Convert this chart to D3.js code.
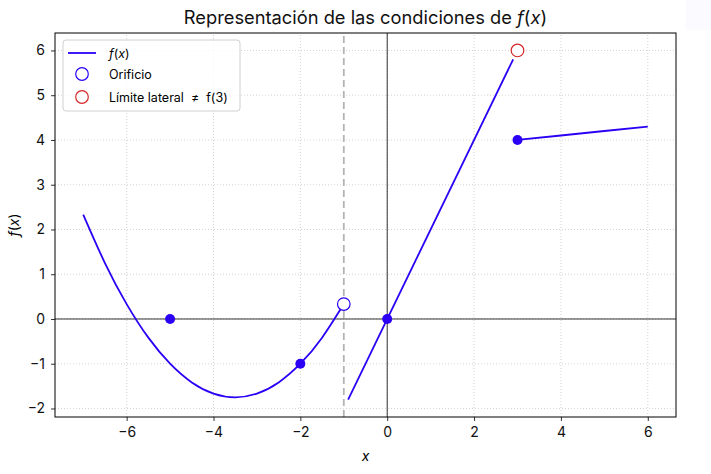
<!DOCTYPE html>
<html>
<head>
<meta charset="utf-8">
<script src="https://cdn.jsdelivr.net/npm/d3@7"></script>
<style>
  body { margin: 0; background: #fff; }
  svg { font-family: Inter, "Open Sans", sans-serif; }
</style>
</head>
<body>
<div id="chart"></div>
<script>
// parabola piece, x < -1
var parabolaX = [-7, -6.5, -6, -5.5, -5, -4.5, -4, -3.5, -3, -2.5, -2, -1.5, -1];
var parabolaY = [2.333, 1.25, 0.333, -0.417, -1.0, -1.417, -1.667, -1.75, -1.667, -1.417, -1.0, -0.417, 0.333];

// straight piece between the discontinuities
var lineX = [-0.9, 2.9];
var lineY = [-1.8, 5.8];

// slow rising piece, x >= 3
var tailX = [3, 4, 5, 6];
var tailY = [4.0, 4.1, 4.2, 4.3];

// special points
var filledX = [-5, -2, 0, 3];
var filledY = [0, -1, 0, 4];
var holeX = [-1];
var holeY = [0.333];
var limitX = [3];
var limitY = [6];

var xTicks = [-6, -4, -2, 0, 2, 4, 6];
var yTicks = [-2, -1, 0, 1, 2, 3, 4, 5, 6];
var legendLabels = ["f(x)", "Orificio", "Límite lateral  ≠  f(3)"];

var width = 711, height = 474;
var margin = {top: 33, right: 35, bottom: 57, left: 55};
var blue = "#2b00f5", red = "#d62728";

var svg = d3.select("#chart").append("svg")
    .attr("width", width)
    .attr("height", height);

// faint box in the top right corner
svg.append("rect")
    .attr("x", 686).attr("y", 0).attr("width", 25).attr("height", 30)
    .attr("fill", "#fafaff");

var x = d3.scaleLinear().domain([-7.65, 6.65]).range([margin.left, width - margin.right]);
var y = d3.scaleLinear().domain([-2.19, 6.39]).range([height - margin.bottom, margin.top]);

var g = svg.append("g");

// grid
g.selectAll(".gx").data(xTicks).enter().append("line")
    .attr("x1", function (d) { return x(d); })
    .attr("x2", function (d) { return x(d); })
    .attr("y1", y.range()[0]).attr("y2", y.range()[1])
    .attr("stroke", "#c8c8c8").attr("stroke-width", 0.8)
    .attr("stroke-dasharray", "1,2");
g.selectAll(".gy").data(yTicks).enter().append("line")
    .attr("y1", function (d) { return y(d); })
    .attr("y2", function (d) { return y(d); })
    .attr("x1", x.range()[0]).attr("x2", x.range()[1])
    .attr("stroke", "#c8c8c8").attr("stroke-width", 0.8)
    .attr("stroke-dasharray", "1,2");

// zero lines
g.append("line")
    .attr("x1", x.range()[0]).attr("x2", x.range()[1])
    .attr("y1", y(0)).attr("y2", y(0))
    .attr("stroke", "#000").attr("stroke-width", 0.8);
g.append("line")
    .attr("x1", x(0)).attr("x2", x(0))
    .attr("y1", y.range()[0]).attr("y2", y.range()[1])
    .attr("stroke", "#000").attr("stroke-width", 0.8);

// dashed line at x = -1
g.append("line")
    .attr("x1", x(-1)).attr("x2", x(-1))
    .attr("y1", y.range()[0]).attr("y2", y.range()[1])
    .attr("stroke", "#b4b4b4").attr("stroke-width", 1.8)
    .attr("stroke-dasharray", "7,4");

var line = d3.line()
    .x(function (d) { return x(d[0]); })
    .y(function (d) { return y(d[1]); });

var pieces = [
    [d3.zip(parabolaX, parabolaY), d3.curveNatural],
    [d3.zip(lineX, lineY), d3.curveLinear],
    [d3.zip(tailX, tailY), d3.curveLinear]
];
pieces.forEach(function (p) {
    g.append("path")
        .attr("d", line.curve(p[1])(p[0]))
        .attr("fill", "none")
        .attr("stroke", blue)
        .attr("stroke-width", 1.8);
});

g.selectAll(".dot").data(d3.zip(filledX, filledY)).enter().append("circle")
    .attr("cx", function (d) { return x(d[0]); })
    .attr("cy", function (d) { return y(d[1]); })
    .attr("r", 5)
    .attr("fill", blue);

g.selectAll(".hole").data(d3.zip(holeX, holeY)).enter().append("circle")
    .attr("cx", function (d) { return x(d[0]); })
    .attr("cy", function (d) { return y(d[1]); })
    .attr("r", 6.3)
    .attr("fill", "#fff").attr("stroke", blue).attr("stroke-width", 1.2);

g.selectAll(".limit").data(d3.zip(limitX, limitY)).enter().append("circle")
    .attr("cx", function (d) { return x(d[0]); })
    .attr("cy", function (d) { return y(d[1]); })
    .attr("r", 6.3)
    .attr("fill", "#fff").attr("stroke", red).attr("stroke-width", 1.2);

// axes
var fmt = function (d) { return d < 0 ? "\u2212" + (-d) : d; };
var xAxis = svg.append("g")
    .attr("transform", "translate(0," + (height - margin.bottom) + ")")
    .call(d3.axisBottom(x).tickValues(xTicks).tickSize(4).tickPadding(6).tickFormat(fmt));
var yAxis = svg.append("g")
    .attr("transform", "translate(" + margin.left + ",0)")
    .call(d3.axisLeft(y).tickValues(yTicks).tickSize(4).tickPadding(6).tickFormat(fmt));
[xAxis, yAxis].forEach(function (a) {
    a.select(".domain").remove();
    a.selectAll("text").attr("font-size", 14).attr("fill", "#111")
        .attr("font-family", "Inter, sans-serif");
    a.selectAll("line").attr("stroke", "#000").attr("stroke-width", 0.8);
});

// frame
svg.append("rect")
    .attr("x", margin.left).attr("y", margin.top)
    .attr("width", width - margin.left - margin.right)
    .attr("height", height - margin.top - margin.bottom)
    .attr("fill", "none").attr("stroke", "#000").attr("stroke-width", 1);

// title and labels
var title = svg.append("text")
    .attr("x", (margin.left + width - margin.right) / 2).attr("y", 24)
    .attr("text-anchor", "middle").attr("font-size", 18.3).attr("fill", "#111");
title.append("tspan").text("Representación de las condiciones de ");
title.append("tspan").attr("font-style", "italic").text("f");
title.append("tspan").text("(");
title.append("tspan").attr("font-style", "italic").text("x");
title.append("tspan").text(")");

svg.append("text")
    .attr("x", (margin.left + width - margin.right) / 2).attr("y", 461)
    .attr("text-anchor", "middle").attr("font-size", 14).attr("font-style", "italic")
    .text("x");

var yl = svg.append("text")
    .attr("transform", "translate(19," + ((margin.top + height - margin.bottom) / 2) + ") rotate(-90)")
    .attr("text-anchor", "middle").attr("font-size", 14);
yl.append("tspan").attr("font-style", "italic").text("f");
yl.append("tspan").text("(");
yl.append("tspan").attr("font-style", "italic").text("x");
yl.append("tspan").text(")");

// legend
var lg = svg.append("g").attr("transform", "translate(63,40)");
lg.append("rect")
    .attr("width", 177).attr("height", 71).attr("rx", 3)
    .attr("fill", "#fff").attr("fill-opacity", 0.8)
    .attr("stroke", "#d0d0d0").attr("stroke-width", 1);
lg.append("line")
    .attr("x1", 5).attr("x2", 33).attr("y1", 13).attr("y2", 13)
    .attr("stroke", blue).attr("stroke-width", 1.8);
lg.append("circle").attr("cx", 19).attr("cy", 34).attr("r", 6.3)
    .attr("fill", "#fff").attr("stroke", blue).attr("stroke-width", 1.2);
lg.append("circle").attr("cx", 19).attr("cy", 57).attr("r", 6.3)
    .attr("fill", "#fff").attr("stroke", red).attr("stroke-width", 1.2);
var l0 = lg.append("text").attr("x", 46).attr("y", 18).attr("font-size", 12.5);
l0.append("tspan").attr("font-style", "italic").text("f");
l0.append("tspan").text("(");
l0.append("tspan").attr("font-style", "italic").text("x");
l0.append("tspan").text(")");
lg.append("text").attr("x", 46).attr("y", 39).attr("font-size", 12.5).text(legendLabels[1]);
lg.append("text").attr("x", 46).attr("y", 62).attr("font-size", 12.5)
    .attr("xml:space", "preserve").style("white-space", "pre").text(legendLabels[2]);
</script>
</body>
</html>
